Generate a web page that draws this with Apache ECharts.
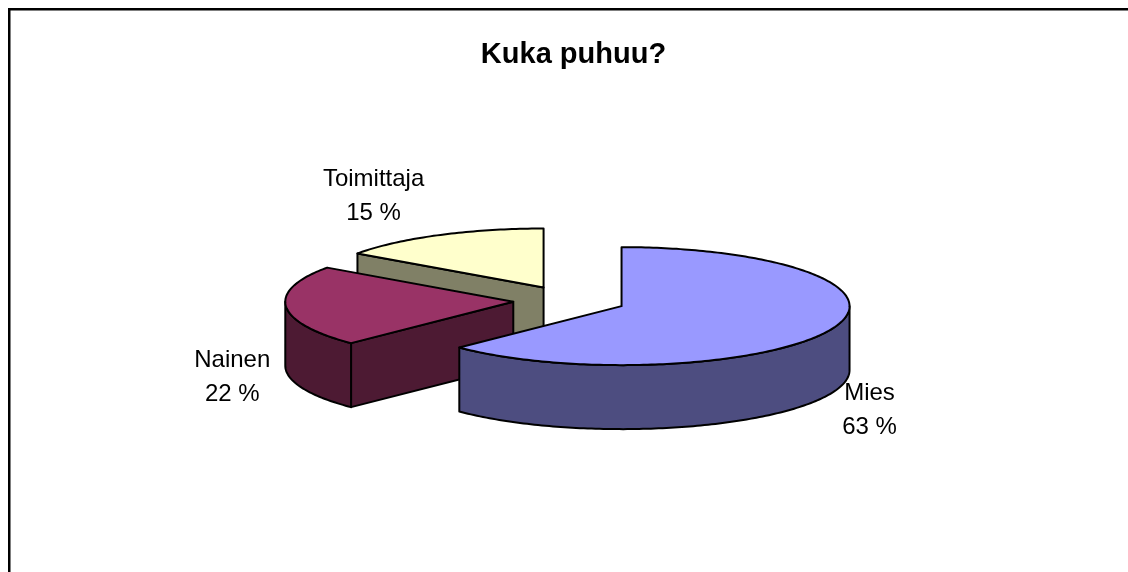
<!DOCTYPE html>
<html>
<head>
<meta charset="utf-8">
<style>html,body{margin:0;padding:0;background:#fff}#main{width:1128px;height:572px}</style>
<script src="https://cdn.jsdelivr.net/npm/echarts@6/dist/echarts.min.js"></script>
</head>
<body>
<div id="main"></div>
<script>
var categories = ['Mies', 'Nainen', 'Toimittaja'];
var shares = [62.6, 22.2, 15.2];
var topColors = ['#9999ff', '#993366', '#ffffcc'];
var sideColors = ['#4d4d80', '#4d1a33', '#808066'];

// fake 3d pie: common centre, flattened ellipse, slices pulled out along mid angle
var centerX = 569.5, centerY = 300.5;
var radiusX = 228, radiusY = 59, depth = 64, explode = 56.4;
// label centres, relative to the slice's own apex
var labelOffsets = [[248, 104], [-281, 76], [-170, -91]];

var total = shares.reduce(function (a, b) { return a + b; }, 0);
var rad = Math.PI / 180;

function rimPoint(cx, cy, deg, down) {
	return [cx + radiusX * Math.sin(deg * rad), cy - radiusY * Math.cos(deg * rad) + (down || 0)];
}
function arcPoints(cx, cy, from, to, down) {
	var pts = [], n = Math.max(2, Math.ceil(Math.abs(to - from)));
	for (var i = 0; i <= n; i++) pts.push(rimPoint(cx, cy, from + (to - from) * i / n, down));
	return pts;
}
function face(points, fill) {
	return {
		type: 'polygon',
		shape: { points: points },
		style: { fill: fill, stroke: '#000', lineWidth: 2, lineJoin: 'round' }
	};
}
function cutFace(cx, cy, deg, fill) {
	var p = rimPoint(cx, cy, deg);
	return face([[cx, cy], p, [p[0], p[1] + depth], [cx, cy + depth]], fill);
}

function renderSlice(params, api) {
	var i = api.value(0);
	var before = 0;
	for (var k = 0; k < i; k++) before += shares[k];
	var a0 = before / total * 360;
	var a1 = (before + api.value(1)) / total * 360;
	var mid = (a0 + a1) / 2;
	var cx = centerX + explode * Math.sin(mid * rad);
	var cy = centerY - explode * radiusY / radiusX * Math.cos(mid * rad);
	var children = [];

	// cut faces only when they turn towards the viewer
	if (Math.sin(a0 * rad) < -1e-6) children.push(cutFace(cx, cy, a0, sideColors[i]));
	if (Math.sin(a1 * rad) > 1e-6) children.push(cutFace(cx, cy, a1, sideColors[i]));

	// outer wall, front half only
	var r0 = Math.max(a0, 90), r1 = Math.min(a1, 270);
	if (r1 > r0) {
		children.push(face(arcPoints(cx, cy, r0, r1).concat(arcPoints(cx, cy, r1, r0, depth)), sideColors[i]));
	}

	// top
	children.push(face([[cx, cy]].concat(arcPoints(cx, cy, a0, a1)), topColors[i]));

	children.push({
		type: 'text',
		z2: 10,
		style: {
			x: cx + labelOffsets[i][0],
			y: cy + labelOffsets[i][1],
			text: categories[i] + '\n' + Math.round(api.value(1)) + ' %',
			fill: '#000',
			font: '24px "Liberation Sans", Arial, sans-serif',
			lineHeight: 34,
			align: 'center',
			verticalAlign: 'middle'
		}
	});
	return { type: 'group', children: children };
}

var chart = echarts.init(document.querySelector('#main'));
// far slices first so the near ones paint over them
var seriesData = categories.map(function (name, i) {
	return { name: name, value: [i, shares[i]] };
}).reverse();

var option = {
	animation: false,
	backgroundColor: '#fff',
	title: {
		text: 'Kuka puhuu?',
		left: 568.5,
		top: 35,
		textAlign: 'center',
		textStyle: { fontFamily: '"Liberation Sans", Arial, sans-serif', fontWeight: 'bold', fontSize: 29, color: '#000' }
	},
	graphic: [{
		// frame runs off the right and bottom of the picture
		type: 'rect',
		silent: true,
		shape: { x: 9.25, y: 9.25, width: 1300, height: 800 },
		style: { fill: 'none', stroke: '#000', lineWidth: 2.5 }
	}],
	series: [{
		type: 'custom',
		coordinateSystem: 'none',
		renderItem: renderSlice,
		data: seriesData
	}]
};
chart.setOption(option);
</script>
</body>
</html>
